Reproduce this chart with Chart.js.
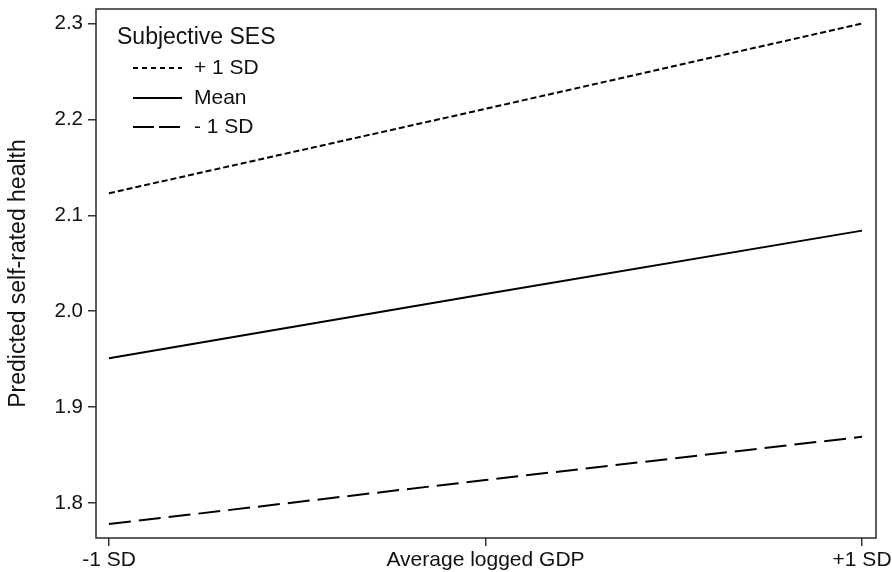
<!DOCTYPE html>
<html>
<head>
<meta charset="utf-8">
<script src="https://cdn.jsdelivr.net/npm/chart.js@4/dist/chart.umd.min.js"></script>
<style>
  html, body { margin: 0; padding: 0; background: #fff; }
  #wrap { width: 892px; height: 572px; }
</style>
</head>
<body>
<div id="wrap"><canvas id="c" width="892" height="572"></canvas></div>
<script>
// GDP levels (x positions) and their tick labels
const gdpLevels = [-1, 0, 1];
const gdpLabels = ['-1 SD', 'Average logged GDP', '+1 SD'];

// Predicted self-rated health by subjective SES level
const sesHigh = [2.123, 2.211, 2.300];
const sesMean = [1.951, 2.018, 2.084];
const sesLow  = [1.778, 1.824, 1.869];

const seriesNames = ['+ 1 SD', 'Mean', '- 1 SD'];
const legendTitle = 'Subjective SES';

// y-axis tick values
const yTicks = [1.8, 1.9, 2.0, 2.1, 2.2, 2.3];

const FONT = '"Liberation Sans", Arial, Helvetica, sans-serif';
const INK = '#111';

function pts(vals) {
  return vals.map((v, i) => ({ x: gdpLevels[i], y: v }));
}

const styles = [
  { dash: [6, 3], legendDash: [5, 4] },
  { dash: [], legendDash: [] },
  { dash: [22, 8], legendDash: [21, 5] }
];

const datasets = [sesHigh, sesMean, sesLow].map((vals, i) => ({
  label: seriesNames[i],
  data: pts(vals),
  borderColor: '#000',
  borderWidth: 2,
  borderDash: styles[i].dash,
  pointRadius: 0,
  fill: false,
  tension: 0
}));

// Frame around the plot area and the in-plot legend
const framePlugin = {
  id: 'frameAndKey',
  afterDraw(chart) {
    const { ctx, chartArea: a } = chart;
    ctx.save();
    ctx.strokeStyle = '#2a2a2a';
    ctx.lineWidth = 1.5;
    ctx.setLineDash([]);
    ctx.strokeRect(a.left, a.top, a.right - a.left, a.bottom - a.top);

    // legend
    ctx.fillStyle = INK;
    ctx.textBaseline = 'middle';
    ctx.textAlign = 'left';
    ctx.font = '23px ' + FONT;
    ctx.fillText(legendTitle, a.left + 21, a.top + 29);
    ctx.font = '21px ' + FONT;
    const rows = [59, 89, 118];
    chart.data.datasets.forEach((ds, i) => {
      const y = a.top + rows[i];
      ctx.beginPath();
      ctx.strokeStyle = '#000';
      ctx.lineWidth = 2;
      ctx.setLineDash(styles[i].legendDash);
      ctx.moveTo(a.left + 37, y);
      ctx.lineTo(a.left + 86, y);
      ctx.stroke();
      ctx.setLineDash([]);
      ctx.fillText(ds.label, a.left + 98, y);
    });
    ctx.restore();
  }
};

new Chart(document.getElementById('c'), {
  type: 'line',
  data: { datasets },
  options: {
    responsive: false,
    animation: false,
    devicePixelRatio: 1,
    layout: { padding: { left: 0, top: 9, right: 16, bottom: 0 } },
    plugins: {
      legend: { display: false },
      tooltip: { enabled: false }
    },
    scales: {
      x: {
        type: 'linear',
        min: -1.0345,
        max: 1.037,
        afterBuildTicks(scale) { scale.ticks = gdpLevels.map(v => ({ value: v })); },
        afterFit(scale) {
          scale.height = 34;
          scale.paddingLeft = 0;
          scale.paddingRight = 0;
        },
        border: { display: false },
        grid: { drawOnChartArea: false, drawTicks: true, tickLength: 8, color: '#333', lineWidth: 1.5 },
        ticks: {
          padding: 2,
          maxRotation: 0,
          autoSkip: false,
          color: INK,
          font: { family: FONT, size: 21 },
          callback: (v) => gdpLabels[gdpLevels.indexOf(v)] ?? ''
        }
      },
      y: {
        type: 'linear',
        min: 1.7635,
        max: 2.3151,
        afterBuildTicks(scale) { scale.ticks = yTicks.map(v => ({ value: v })); },
        afterFit(scale) {
          scale.width = 96;
          scale.paddingTop = 0;
          scale.paddingBottom = 0;
        },
        border: { display: false },
        grid: { drawOnChartArea: false, drawTicks: true, tickLength: 8, color: '#333', lineWidth: 1.5 },
        ticks: {
          padding: 5,
          color: INK,
          font: { family: FONT, size: 20.5 },
          callback: (v) => Number(v).toFixed(1)
        },
        title: {
          display: true,
          text: 'Predicted self-rated health',
          color: INK,
          font: { family: FONT, size: 23 },
          padding: { top: 5, bottom: 0 }
        }
      }
    }
  },
  plugins: [framePlugin]
});
</script>
</body>
</html>
